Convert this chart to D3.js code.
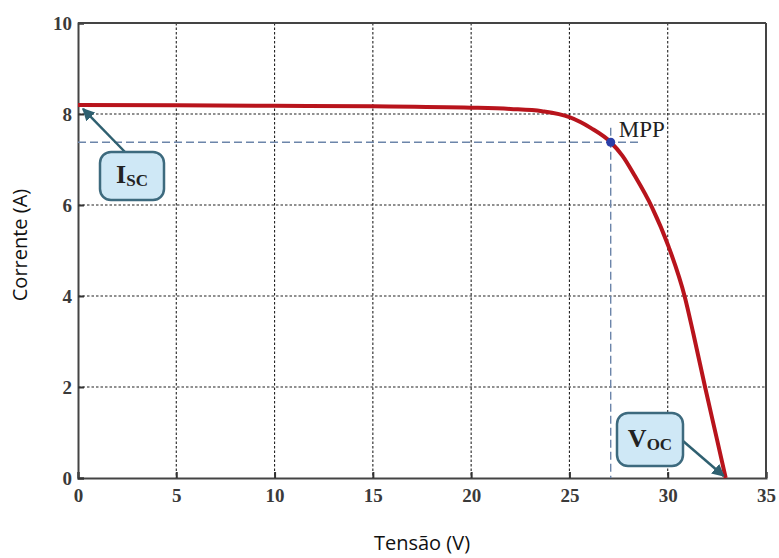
<!DOCTYPE html>
<html>
<head>
<meta charset="utf-8">
<script src="https://cdn.jsdelivr.net/npm/d3@7"></script>
<style>
  body { margin: 0; background: #fff; }
  svg { display: block; }
</style>
</head>
<body>
<svg id="chart" width="779" height="558"></svg>
<script>
// curva I-V
const tensao = [0, 5, 10, 15, 20, 22, 23.6, 25, 26.1, 27.1, 27.7, 28.3, 29.2, 30.05, 30.87, 31.3, 31.9, 32.5, 32.95];
const corrente = [8.2, 8.19, 8.18, 8.17, 8.14, 8.11, 8.06, 7.93, 7.69, 7.38, 7.08, 6.66, 5.95, 5.08, 3.98, 3.18, 2.0, 0.86, 0];
const xTicks = [0, 5, 10, 15, 20, 25, 30, 35];
const yTicks = [0, 2, 4, 6, 8, 10];
const mpp = { v: 27.1, i: 7.38 };
const isc = { v: 0, i: 8.2 };
const voc = { v: 32.95, i: 0 };

const svg = d3.select("#chart");
const pLeft = 78, pRight = 766, pTop = 23, pBottom = 478;

const x = d3.scaleLinear().domain([0, 35]).range([pLeft, pRight]);
const y = d3.scaleLinear().domain([0, 10]).range([pBottom, pTop]);

// grade pontilhada
svg.append("g")
    .selectAll("line")
    .data(xTicks.slice(1, -1))
    .join("line")
    .attr("x1", d => x(d)).attr("x2", d => x(d))
    .attr("y1", pTop).attr("y2", pBottom)
    .attr("stroke", "#222")
    .attr("stroke-width", 1.1)
    .attr("stroke-dasharray", "2.5,2");

svg.append("g")
    .selectAll("line")
    .data(yTicks.slice(1, -1))
    .join("line")
    .attr("x1", pLeft).attr("x2", pRight)
    .attr("y1", d => y(d)).attr("y2", d => y(d))
    .attr("stroke", "#222")
    .attr("stroke-width", 1.1)
    .attr("stroke-dasharray", "2.5,2");

// eixos
const xAxis = svg.append("g")
    .attr("transform", `translate(0,${pBottom})`)
    .call(d3.axisBottom(x).tickValues(xTicks).tickSize(-6).tickPadding(11));
const yAxis = svg.append("g")
    .attr("transform", `translate(${pLeft},0)`)
    .call(d3.axisLeft(y).tickValues(yTicks).tickSize(-6).tickPadding(6));

[xAxis, yAxis].forEach(g => {
    g.select(".domain").attr("stroke", "#444").attr("stroke-width", 2);
    g.selectAll(".tick line").attr("stroke", "#333").attr("stroke-width", 2);
    g.selectAll(".tick text")
        .attr("font-family", "Liberation Serif, serif")
        .attr("font-weight", "bold")
        .attr("font-size", "19px")
        .attr("fill", "#3a3a3a");
});

// moldura
svg.append("line").attr("x1", pLeft).attr("x2", pRight).attr("y1", pTop).attr("y2", pTop)
    .attr("stroke", "#444").attr("stroke-width", 2);
svg.append("line").attr("x1", pRight).attr("x2", pRight).attr("y1", pTop).attr("y2", pBottom)
    .attr("stroke", "#444").attr("stroke-width", 2);

// linhas tracejadas do MPP
svg.append("line")
    .attr("x1", x(0)).attr("x2", x(28.6))
    .attr("y1", y(mpp.i)).attr("y2", y(mpp.i))
    .attr("stroke", "#6c85aa").attr("stroke-width", 1.4)
    .attr("stroke-dasharray", "8,4");
svg.append("line")
    .attr("x1", x(mpp.v)).attr("x2", x(mpp.v))
    .attr("y1", y(7.7)).attr("y2", y(0))
    .attr("stroke", "#6c85aa").attr("stroke-width", 1.4)
    .attr("stroke-dasharray", "8,4");

// curva
const line = d3.line()
    .x((d, k) => x(tensao[k]))
    .y((d, k) => y(corrente[k]))
    .curve(d3.curveMonotoneX);

svg.append("path")
    .datum(corrente)
    .attr("d", line)
    .attr("fill", "none")
    .attr("stroke", "#b8141c")
    .attr("stroke-width", 4);

svg.append("circle")
    .attr("cx", x(mpp.v)).attr("cy", y(mpp.i))
    .attr("r", 4.5)
    .attr("fill", "#2b3fa8");

svg.append("text")
    .attr("x", x(mpp.v) + 8).attr("y", y(mpp.i) - 5)
    .attr("font-family", "Liberation Serif, serif")
    .attr("font-size", "23px")
    .attr("fill", "#222")
    .text("MPP");

// caixas de anotação
svg.append("defs").append("marker")
    .attr("id", "seta")
    .attr("viewBox", "0 0 10 10")
    .attr("refX", 9).attr("refY", 5)
    .attr("markerWidth", 5).attr("markerHeight", 5)
    .attr("orient", "auto")
    .append("path")
    .attr("d", "M0,0 L10,5 L0,10 z")
    .attr("fill", "#2f6070");

function callout(bx, by, bw, bh, ax, ay, tx, ty, main, sub) {
    svg.append("line")
        .attr("x1", ax).attr("y1", ay)
        .attr("x2", tx).attr("y2", ty)
        .attr("stroke", "#2f6070").attr("stroke-width", 2.5)
        .attr("marker-end", "url(#seta)");
    svg.append("rect")
        .attr("x", bx).attr("y", by)
        .attr("width", bw).attr("height", bh)
        .attr("rx", 11)
        .attr("fill", "#cfe8f6")
        .attr("stroke", "#3d6a7e").attr("stroke-width", 2.5);
    const t = svg.append("text")
        .attr("x", bx + bw / 2).attr("y", by + bh / 2 + 7)
        .attr("text-anchor", "middle")
        .attr("font-family", "Liberation Serif, serif")
        .attr("font-weight", "bold")
        .attr("fill", "#222");
    t.append("tspan").attr("font-size", "26px").text(main);
    t.append("tspan").attr("font-size", "17px").attr("dy", 3).text(sub);
}

callout(100, 152, 64, 48, 125, 152, x(isc.v) + 5, y(isc.i) + 4, "I", "SC");
callout(617, 413, 66, 53, 683, 441, x(voc.v) - 2, y(voc.i) - 2, "V", "OC");

// títulos dos eixos
svg.append("text")
    .attr("x", 422).attr("y", 550)
    .attr("text-anchor", "middle")
    .attr("font-family", "Open Sans, sans-serif")
    .attr("font-size", "20px")
    .attr("fill", "#111")
    .text("Tensão (V)");

svg.append("text")
    .attr("transform", "translate(27,245) rotate(-90)")
    .attr("text-anchor", "middle")
    .attr("font-family", "Open Sans, sans-serif")
    .attr("font-size", "20px")
    .attr("fill", "#111")
    .text("Corrente (A)");
</script>
</body>
</html>
